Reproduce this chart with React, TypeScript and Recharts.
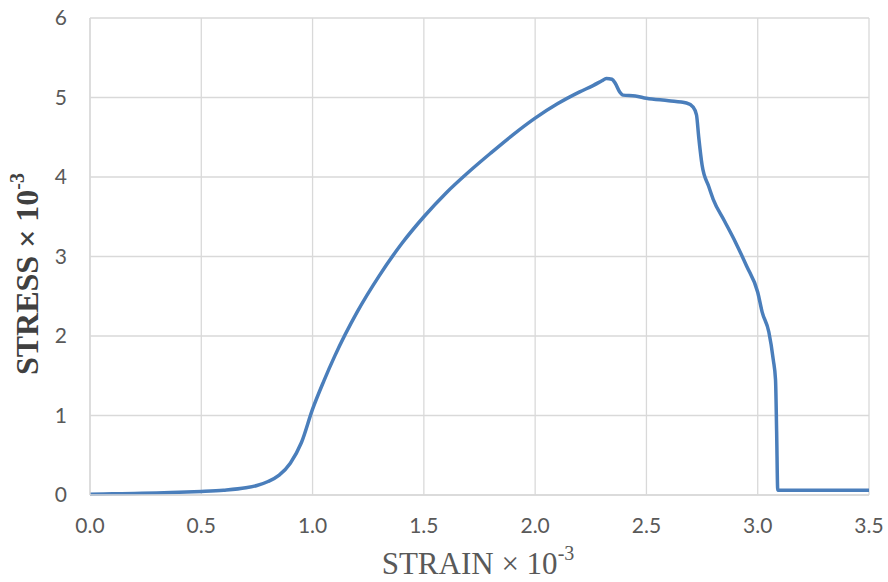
import React from "react";
import {
  CartesianGrid,
  Label,
  Line,
  LineChart,
  XAxis,
  YAxis,
} from "recharts";

// strain (×10^-3) and the matching stress readings (×10^-3)
const strain = [
  0, 0.1, 0.2, 0.3, 0.4, 0.5, 0.6, 0.7, 0.75, 0.8, 0.85, 0.9, 0.95, 1.0, 1.05,
  1.1, 1.2, 1.3, 1.4, 1.5, 1.6, 1.7, 1.8, 1.9, 2.0, 2.1, 2.2, 2.26, 2.3, 2.32,
  2.345, 2.36, 2.38, 2.395, 2.45, 2.5, 2.6, 2.68, 2.71, 2.725, 2.735, 2.75,
  2.78, 2.8, 2.85, 2.9, 2.95, 3.0, 3.02, 3.05, 3.07, 3.08, 3.085, 3.09, 3.2,
  3.35, 3.5,
];
const stress = [
  0.01, 0.015, 0.02, 0.025, 0.035, 0.045, 0.06, 0.09, 0.12, 0.17, 0.25, 0.4,
  0.66, 1.08, 1.43, 1.75, 2.3, 2.76, 3.16, 3.5, 3.8, 4.06, 4.3, 4.53, 4.74,
  4.92, 5.07, 5.15, 5.21, 5.24, 5.23, 5.18, 5.07, 5.03, 5.02, 4.99, 4.96, 4.93,
  4.88, 4.78, 4.5, 4.15, 3.88, 3.72, 3.45, 3.18, 2.88, 2.55, 2.3, 2.05, 1.7,
  1.45, 0.8, 0.06, 0.06, 0.06, 0.06,
];

const xTicks = [0, 0.5, 1, 1.5, 2, 2.5, 3, 3.5];
const yTicks = [0, 1, 2, 3, 4, 5, 6];

const data = strain.map((s, i) => ({ strain: s, stress: stress[i] }));

const tickStyle = { fill: "#595959", fontSize: 21, fontFamily: "Lato, sans-serif" };
const titleFont = "'Liberation Serif', 'Times New Roman', serif";

export default function App() {
  return (
    <div style={{ position: "absolute", left: 0, top: 0, background: "#fff" }}>
      <LineChart
        width={888}
        height={582}
        data={data}
        margin={{ top: 18, right: 19, bottom: 0, left: 0 }}
      >
        <CartesianGrid stroke="#d9d9d9" strokeWidth={1.3} />
        <XAxis
          dataKey="strain"
          type="number"
          domain={[0, 3.5]}
          ticks={xTicks}
          tickFormatter={(v) => v.toFixed(1)}
          tick={tickStyle}
          tickLine={false}
          tickSize={0}
          tickMargin={23}
          height={87}
          axisLine={{ stroke: "#d9d9d9", strokeWidth: 1.3 }}
        >
          <Label
            content={() => (
              <text
                x={478}
                y={574}
                textAnchor="middle"
                fill="#595959"
                fontSize={31}
                fontFamily={titleFont}
              >
                STRAIN × 10
                <tspan fontSize={20} dy={-14}>
                  -3
                </tspan>
              </text>
            )}
          />
        </XAxis>
        <YAxis
          type="number"
          domain={[0, 6]}
          ticks={yTicks}
          tick={tickStyle}
          tickLine={false}
          tickSize={0}
          tickMargin={23}
          width={90}
          axisLine={{ stroke: "#d9d9d9", strokeWidth: 1.3 }}
        >
          <Label
            content={() => (
              <text
                x={0}
                y={0}
                transform="translate(38, 274) rotate(-90)"
                textAnchor="middle"
                fill="#404040"
                fontSize={32}
                fontWeight="bold"
                fontFamily={titleFont}
              >
                STRESS × 10
                <tspan fontSize={20} dy={-14}>
                  -3
                </tspan>
              </text>
            )}
          />
        </YAxis>
        <Line
          dataKey="stress"
          type="monotone"
          stroke="#4a7ebb"
          strokeWidth={3.5}
          dot={false}
          isAnimationActive={false}
        />
      </LineChart>
    </div>
  );
}
